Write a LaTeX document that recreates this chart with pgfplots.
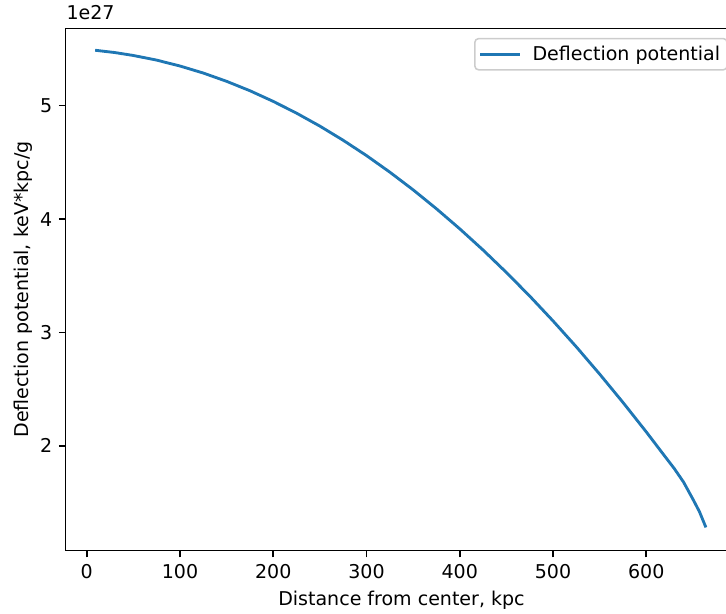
\documentclass[border=0pt]{standalone}
\usepackage{fontspec}
\setmainfont{DejaVu Sans}
\usepackage{pgfplots}
\pgfplotsset{compat=1.18}
\definecolor{mplblue}{HTML}{1F77B4}
\newcommand{\mplfont}{\fontsize{13.7pt}{16pt}\selectfont}
\begin{document}
\mplfont
\begin{tikzpicture}
\begin{axis}[
  name=ax,
  at={(0,0)}, anchor=south west,
  scale only axis, width=483.8pt, height=376.1pt,
  xmin=-22.75, xmax=697.75, ymin=1.0755, ymax=5.6825,
  xtick={0,100,...,600}, ytick={2,3,4,5},
  xtick pos=lower, ytick pos=left,
  tick align=outside, major tick length=4.8pt,
  tick style={black, line width=1.1pt},
  axis line style={line width=1.1pt},
  /pgf/number format/assume math mode=true,
  ticklabel style={font=\mplfont},
  label style={font=\mplfont},
  xlabel={Distance from center, kpc},
  ylabel={Deflection potential, keV*kpc/g},
  ylabel shift=-3.6pt,
  legend style={at={(1,1)}, anchor=north east, xshift=-6.85pt, yshift=-6.85pt,
    draw=black!20, rounded corners=2.7pt, fill=white, fill opacity=0.8, text opacity=1,
    font=\mplfont, inner xsep=3pt, inner ysep=3pt, line width=1.1pt},
  legend cell align=left,
  legend image code/.code={\draw[#1] (0pt,0pt) -- (28.8pt,0pt); \path (34.5pt,0pt);},
]
\addplot[mplblue, line width=2.05pt] coordinates {
(9,5.489) (30,5.469) (50,5.443) (75,5.402) (100,5.350) (125,5.288)
(150,5.215) (175,5.132) (200,5.038) (225,4.934) (250,4.820) (275,4.695)
(300,4.560) (325,4.414) (350,4.258) (375,4.091) (400,3.914) (425,3.727)
(450,3.529) (475,3.321) (500,3.102) (525,2.873) (550,2.633) (575,2.383)
(600,2.123) (620,1.907) (630,1.800) (640,1.680) (650,1.530) (657,1.420)
(664,1.280)
};
\addlegendentry{Deflection potential}
\end{axis}
\node[anchor=base west, inner sep=0pt, font=\mplfont] at ([xshift=0.5pt, yshift=6pt]ax.north west) {1e27};
\pgfresetboundingbox
\useasboundingbox ([shift={(-47.2pt,-45.6pt)}]ax.south west) rectangle ([shift={(475.6pt,396.5pt)}]ax.south west);
\end{tikzpicture}
\end{document}
